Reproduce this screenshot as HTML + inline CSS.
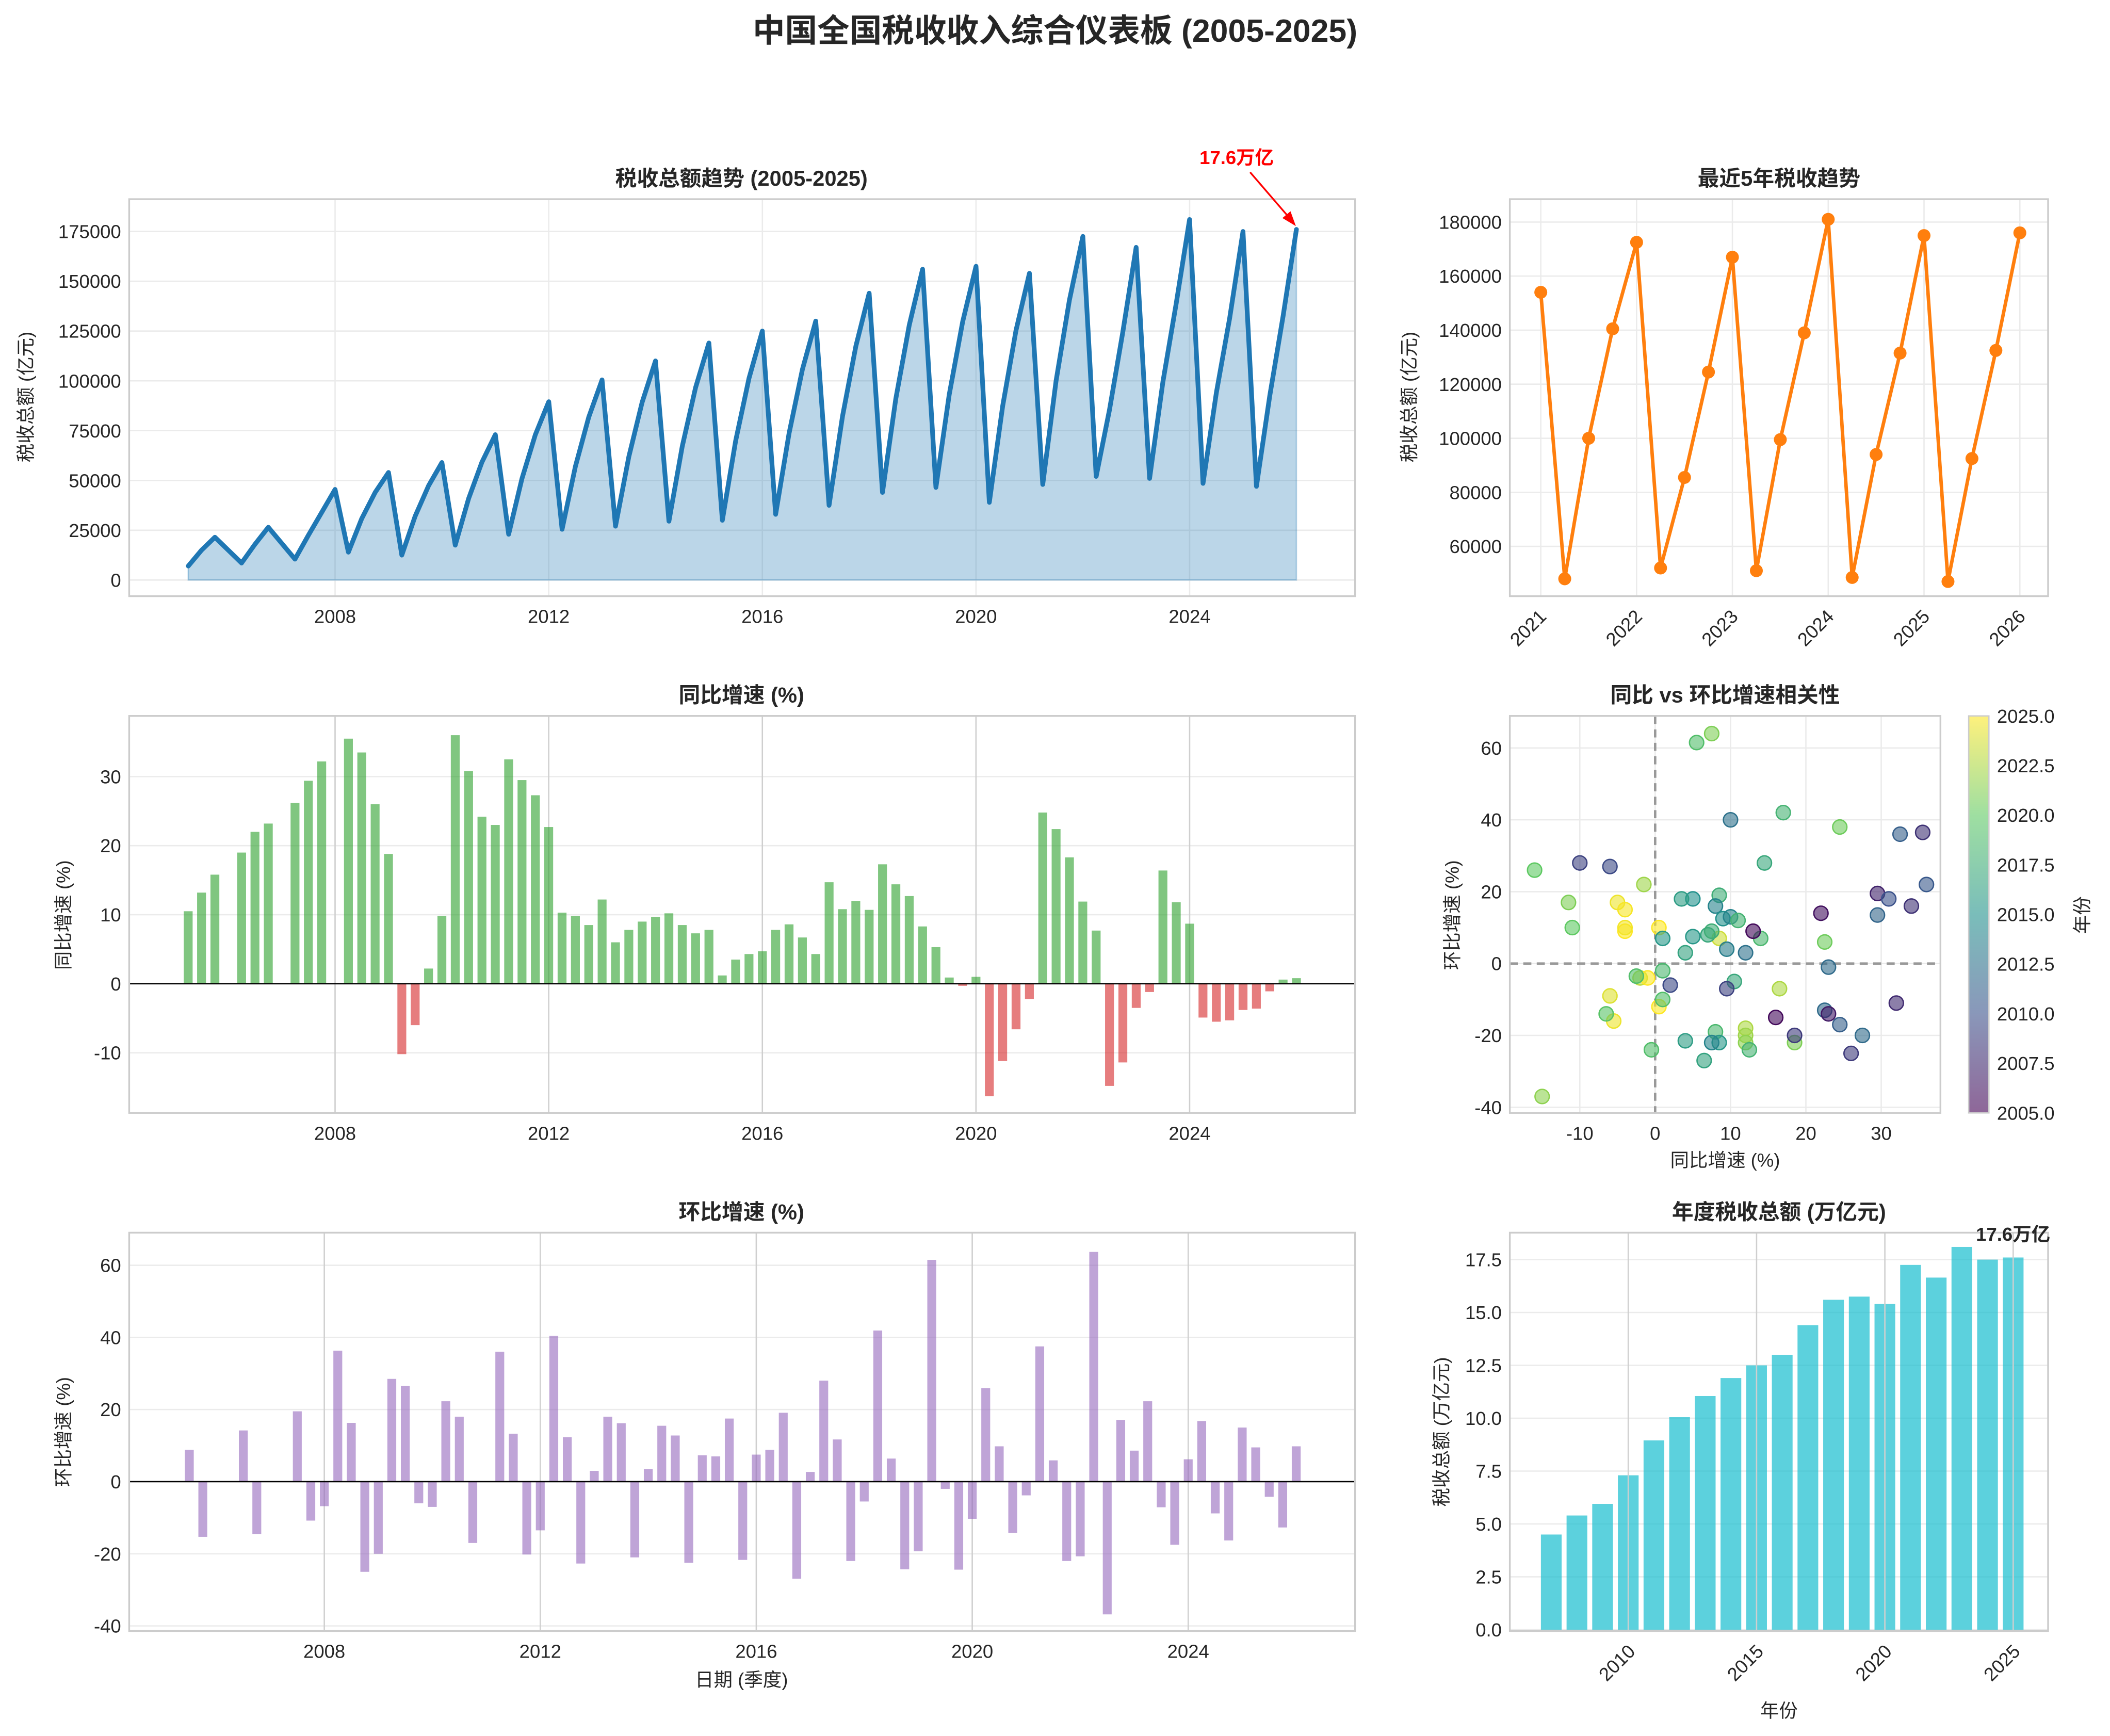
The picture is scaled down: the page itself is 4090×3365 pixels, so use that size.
<!DOCTYPE html>
<html><head><meta charset="utf-8">
<style>
html,body{margin:0;padding:0;background:#fff;}
svg{display:block;}
text{font-family:"Liberation Sans","Noto Sans CJK SC",sans-serif;fill:#262626;}
</style></head>
<body>
<svg id="s" xmlns="http://www.w3.org/2000/svg" width="4090" height="3365" viewBox="0 0 1568 1290" preserveAspectRatio="none">
<rect width="1568" height="1290" fill="#fff"/>
</svg>
<script>
const S=document.getElementById('s');const NS='http://www.w3.org/2000/svg';
function el(t,a,txt){const e=document.createElementNS(NS,t);for(const k in a)e.setAttribute(k,a[k]);if(txt!==undefined)e.textContent=txt;S.appendChild(e);return e;}
function txt(x,y,s,o){o=o||{};return el('text',Object.assign({x:x,y:y,'font-size':o.fs||14,'text-anchor':o.a||'middle','font-weight':o.b?'bold':'normal'},o.t?{transform:o.t}:{},o.fill?{style:'fill:'+o.fill}:{}),s);}
function line(x1,y1,x2,y2,c,w,d){return el('line',Object.assign({x1,y1,x2,y2,stroke:c,'stroke-width':w||1},d?{'stroke-dasharray':d}:{}));}
function box(x0,y0,x1,y1){el('rect',{x:x0,y:y0,width:x1-x0,height:y1-y0,fill:'none',stroke:'#cccccc','stroke-width':1.3});}
const G='#ebebeb';

txt(784,31,'中国全国税收收入综合仪表板 (2005-2025)',{fs:24,b:1});

// ===== Panel 1 =====
{const X0=96,X1=1007,Y0=148,Y1=443;
const x=t=>249+(t-2008)*39.69, y=v=>431-v*259/175000;
for(let v=0;v<=175000;v+=25000){line(X0,y(v),X1,y(v),G);txt(X0-6,y(v)+5,String(v),{a:'end'});}
for(let t=2008;t<=2024;t+=4){line(x(t),Y0,x(t),Y1,G);txt(x(t),Y1+20,String(t));}
let P=[[2005.25,7000],[2005.5,15000],[2005.75,21500],[2006.25,8500],[2006.5,18000],[2006.75,26500],[2007.25,10500],[2007.5,22500],[2007.75,34000],[2008,45500]];
const q1=[14000,12500,17500,23000,25500,27000,29500,30000,33000,37500,44000,46500,39000,48000,52000,51000,48500,47000];
const q4=[54000,59000,73000,89500,100500,110000,119000,125000,130000,144000,156000,157500,154000,172500,167000,181000,175000,176000];
const known={2021:[100000,140500],2022:[85500,124500],2023:[99500,139000],2024:[94000,131500],2025:[92500,132500]};
for(let i=0;i<18;i++){const Y=2008+i;const a=q1[i],b=q4[i];let q2=a+0.42*(b-a),q3=a+0.75*(b-a);if(known[Y]){q2=known[Y][0];q3=known[Y][1];}
P.push([Y+.25,a],[Y+.5,q2],[Y+.75,q3],[Y+1,b]);}
window.P1=P;
let d=P.map((p,i)=>(i?'L':'M')+x(p[0]).toFixed(1)+','+y(p[1]).toFixed(1)).join('');
el('path',{d:d+'L'+x(2026).toFixed(1)+','+y(0)+'L'+x(2005.25).toFixed(1)+','+y(0)+'Z',fill:'#1f77b4','fill-opacity':0.3,stroke:'#1f77b4','stroke-opacity':0.3});
el('path',{d:d,fill:'none',stroke:'#1f77b4','stroke-width':3.5,'stroke-linejoin':'round','stroke-linecap':'round'});
box(X0,Y0,X1,Y1);
txt(551,138,'税收总额趋势 (2005-2025)',{fs:16,b:1});
txt(24,295,'税收总额 (亿元)',{t:'rotate(-90 24 295)'});
txt(919,122,'17.6万亿',{fs:14,b:1,fill:'#ff0000'});
line(929,128,960,164,'#ff0000',1.3);
el('path',{d:'M963,168 L953,162 L959,157 Z',fill:'#ff0000'});
}

// ===== Panel 2 =====
{const X0=1122,X1=1522,Y0=148,Y1=443;
const x=t=>1145+(t-2021)*71.2, y=v=>406-(v-60000)*241/120000;
for(let v=60000;v<=180000;v+=20000){line(X0,y(v),X1,y(v),G);txt(X0-6,y(v)+5,String(v),{a:'end'});}
for(let t=2021;t<=2026;t++){line(x(t),Y0,x(t),Y1,G);txt(x(t)+5,Y1+16,String(t),{a:'end',t:'rotate(-45 '+(x(t)+5)+' '+(Y1+16)+')'});}
const P=window.P1.filter(p=>p[0]>=2021);
el('path',{d:P.map((p,i)=>(i?'L':'M')+x(p[0]).toFixed(1)+','+y(p[1]).toFixed(1)).join(''),fill:'none',stroke:'#ff7f0e','stroke-width':2.6});
P.forEach(p=>el('circle',{cx:x(p[0]),cy:y(p[1]),r:4.8,fill:'#ff7f0e'}));
box(X0,Y0,X1,Y1);
txt(1322,138,'最近5年税收趋势',{fs:16,b:1});
txt(1052,295,'税收总额 (亿元)',{t:'rotate(-90 1052 295)'});
}

// ===== Panel 3 YoY =====
{const X0=96,X1=1007,Y0=532,Y1=827;
const x=t=>249+(t-2008)*39.69, y=v=>731-v*5.13;
for(let v=-10;v<=30;v+=10){line(X0,y(v),X1,y(v),G);txt(X0-6,y(v)+5,String(v),{a:'end'});}
for(let t=2008;t<=2024;t+=4){line(x(t),Y0,x(t),Y1,'#cfcfcf');txt(x(t),Y1+20,String(t));}
const D=[[2005.25,10.5],[2005.5,13.2],[2005.75,15.8],[2006.25,19],[2006.5,22],[2006.75,23.2],[2007.25,26.2],[2007.5,29.4],[2007.75,32.2]];
const v=[35.5,33.5,26,18.8,-10.2,-6,2.2,9.8,36,30.8,24.2,23,32.5,29.5,27.3,22.7,10.3,9.8,8.5,12.2,6,7.8,9,9.7,10.2,8.5,7.3,7.8,1.2,3.5,4.3,4.7,7.8,8.6,6.7,4.3,14.7,10.8,12,10.7,17.3,14.4,12.7,8.3,5.3,0.9,-0.3,1.0,-16.3,-11.2,-6.6,-2.2,24.8,22.4,18.3,11.9,7.7,-14.8,-11.4,-3.5,-1.2,16.4,11.8,8.7,-4.9,-5.5,-5.3,-3.8,-3.6,-1.1,0.6,0.8];
v.forEach((a,i)=>D.push([2008.25+i*0.25,a]));
D.forEach(p=>{const yy=y(p[1]),y0=y(0);el('rect',{x:x(p[0])-3.3,y:Math.min(yy,y0),width:6.6,height:Math.abs(yy-y0),fill:p[1]>=0?'#2ca02c':'#d62728','fill-opacity':0.6});});
line(X0,y(0),X1,y(0),'#000',1);
box(X0,Y0,X1,Y1);
txt(551,522,'同比增速 (%)',{fs:16,b:1});
txt(52,680,'同比增速 (%)',{t:'rotate(-90 52 680)'});
}

// ===== Panel 4 scatter =====
{const X0=1122,X1=1442,Y0=532,Y1=827;
const x=v=>1230+v*5.6, y=v=>716-v*2.67;
for(let v=-40;v<=60;v+=20){line(X0,y(v),X1,y(v),G);txt(X0-6,y(v)+5,String(v),{a:'end'});}
for(let t=-10;t<=30;t+=10){line(x(t),Y0,x(t),Y1,G);txt(x(t),Y1+20,String(t));}
line(x(0),Y0,x(0),Y1,'#999',1.8,'6,4');line(X0,y(0),X1,y(0),'#999',1.8,'6,4');
const vir=[[0,[68,1,84]],[0.25,[59,82,139]],[0.5,[33,145,140]],[0.75,[94,201,98]],[1,[253,231,37]]];
function vc(f){for(let i=0;i<4;i++){if(f<=vir[i+1][0]){const a=vir[i],b=vir[i+1],r=(f-a[0])/(b[0]-a[0]);return 'rgb('+a[1].map((c,k)=>Math.round(c+(b[1][k]-c)*r)).join(',')+')';}}return 'rgb(253,231,37)';}
const pts=[[-15,-37,2021.5],[-5.5,-16,2024.5],[-6,-9,2024],[-5,17,2024.5],[-4,15,2024.8],[-4,9,2025],[-4,10,2024.7],[-2,-4,2023],[-1,-4,2025],[-1.5,22,2022],[0.5,10,2025],[0.5,-12,2025],[12,-18,2022.5],[12,-20,2022],[16.5,-7,2022.5],[12,-22,2021.5],
[-16,26,2020],[-11.5,17,2021],[-11,10,2020],[5.5,61.5,2019],[7.5,64,2021],[17,42,2018],[24.5,38,2020.5],[22.5,6,2020.5],[18.5,-22,2021],[-0.5,-24,2019],[1,-2,2018.5],[1,-10,2019],[-2.5,-3.5,2019],[-6.5,-14,2019.5],[8,-19,2018.5],[8.5,7,2023.5],
[5,18,2015],[3.5,18,2016],[4,3,2016.5],[4,-21.5,2016],[7,8,2017],[6.5,-27,2016.5],[7.5,9,2017.5],[8.5,19,2017.5],[8,16,2014],[9,12.5,2015],[8.5,-22,2015.5],[9.5,4,2013.5],[10,13,2014],[11,12,2018],[10.5,-5,2017],[12.5,-24,2018],[14.5,28,2017],[14,7,2018.5],[1,7,2015.5],[5,7.5,2015.5],[7.5,-22,2014],[12,3,2012.5],[10,40,2012.5],
[9.5,-7,2009],[22.5,-13,2012],[23,-1,2012],[24.5,-17,2011],[27.5,-20,2012],[23,-14,2006.5],[2,-6,2009.5],[-10,28,2009],[-6,27,2009.5],[13,9,2005.5],[16,-15,2005.5],[22,14,2006],[26,-25,2008.5],[29.5,19.5,2007],[31,18,2010],[32,-11,2007.5],[32.5,36,2011],[34,16,2008],[35.5,36.5,2008],[36,22,2010.5],[29.5,13.5,2011.5],[18.5,-20,2008.5]];
pts.forEach(p=>{const c=vc((p[2]-2005)/20);el('circle',{cx:x(p[0]),cy:y(p[1]),r:5.3,fill:c,'fill-opacity':0.6,stroke:c,'stroke-width':1});});
box(X0,Y0,X1,Y1);
txt(1282,522,'同比 vs 环比增速相关性',{fs:16,b:1});
txt(1282,867,'同比增速 (%)');
txt(1084,680,'环比增速 (%)',{t:'rotate(-90 1084 680)'});
const g=el('linearGradient',{id:'vg',x1:0,y1:1,x2:0,y2:0});
vir.forEach(s=>{const st=document.createElementNS(NS,'stop');st.setAttribute('offset',s[0]);st.setAttribute('stop-color','rgb('+s[1].join(',')+')');g.appendChild(st);});
const defs=el('defs',{});defs.appendChild(g);
el('rect',{x:1463,y:532,width:15,height:295,fill:'url(#vg)','fill-opacity':0.6,stroke:'#ccc'});
for(let i=0;i<=8;i++){const v=2005+i*2.5,yy=827-i*295/8;txt(1484,yy+5,v.toFixed(1),{a:'start'});}
txt(1552,680,'年份',{t:'rotate(-90 1552 680)'});
}

// ===== Panel 5 QoQ =====
{const X0=96,X1=1007,Y0=916,Y1=1212;
const x=t=>241+(t-2008)*40.125, y=v=>1101-v*2.68;
for(let v=-40;v<=60;v+=20){line(X0,y(v),X1,y(v),G);txt(X0-6,y(v)+5,String(v),{a:'end'});}
for(let t=2008;t<=2024;t+=4){line(x(t),Y0,x(t),Y1,'#cfcfcf');txt(x(t),Y1+20,String(t));}
const D=[[2005.5,8.8],[2005.75,-15.3],[2006.5,14.2],[2006.75,-14.5],[2007.5,19.5],[2007.75,-10.8],[2008,-6.8]];
const v=[36.3,16.3,-25,-20,28.5,26.5,-6,-7,22.3,18,-17,0,36,13.3,-20.2,-13.5,40.4,12.3,-22.7,3,18,16.2,-21,3.5,15.5,12.8,-22.5,7.3,7,17.5,-21.7,7.5,8.8,19.1,-26.9,2.7,28,11.7,-22,-5.5,41.9,6.4,-24.3,-19.3,61.5,-2,-24.4,-10.3,25.9,9.8,-14.2,-3.8,37.5,5.9,-22,-20.7,63.7,-36.8,17.1,8.6,22.3,-7.1,-17.5,6.2,16.8,-8.8,-16.3,15,9.5,-4.2,-12.7,9.8];
v.forEach((a,i)=>D.push([2008.25+i*0.25,a]));
D.forEach(p=>{const yy=y(p[1]),y0=y(0);el('rect',{x:x(p[0])-3.3,y:Math.min(yy,y0),width:6.6,height:Math.abs(yy-y0),fill:'#9467bd','fill-opacity':0.6});});
line(X0,y(0),X1,y(0),'#000',1);
box(X0,Y0,X1,Y1);
txt(551,906,'环比增速 (%)',{fs:16,b:1});
txt(551,1253,'日期 (季度)');
txt(52,1064,'环比增速 (%)',{t:'rotate(-90 52 1064)'});
}

// ===== Panel 6 annual =====
{const X0=1122,X1=1522,Y0=916,Y1=1212;
const x=t=>1210+(t-2010)*19.07, y=v=>1211-v*275/17.5;
for(let i=0;i<=7;i++){const v=i*2.5;line(X0,y(v),X1,y(v),G);txt(X0-6,y(v)+5,v.toFixed(1),{a:'end'});}
const vals=[4.5,5.4,5.95,7.3,8.95,10.05,11.05,11.9,12.5,13.0,14.4,15.6,15.75,15.4,17.25,16.65,18.1,17.5,17.6];
vals.forEach((v,i)=>{const t=2007+i;el('rect',{x:x(t)-7.7,y:y(v),width:15.4,height:y(0)-y(v),fill:'#17becf','fill-opacity':0.7});});
for(let t=2010;t<=2025;t+=5){line(x(t),Y0,x(t),Y1,'#cfcfcf');txt(x(t)+6,Y1+16,String(t),{a:'end',t:'rotate(-45 '+(x(t)+6)+' '+(Y1+16)+')'});}
box(X0,Y0,X1,Y1);
txt(1322,906,'年度税收总额 (万亿元)',{fs:16,b:1});
txt(1322,1276,'年份');
txt(1076,1064,'税收总额 (万亿元)',{t:'rotate(-90 1076 1064)'});
txt(1496,922,'17.6万亿',{fs:14,b:1});
}
</script>
</body></html>
